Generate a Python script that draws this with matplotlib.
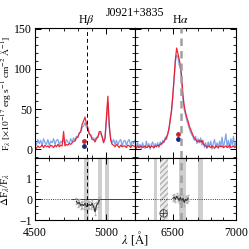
import numpy as np
import matplotlib
matplotlib.use("Agg")
import matplotlib.pyplot as plt
from matplotlib.ticker import MultipleLocator, AutoMinorLocator

plt.rcParams['font.family'] = ['Liberation Serif', 'DejaVu Serif']
plt.rcParams['mathtext.fontset'] = 'stix'

# ---------------- data ----------------
title = "J0921+3835"
xlim_left = (4500, 5200)
xlim_right = (6200, 7000)

wave_left = np.arange(4500, 5201, 10)
flux_blue_left = [9, 5, 12, 7, 11, 4, 13, 8, 6, 12, 5, 10, 8, 13, 6, 11, 12, 5, 10, 8,
                  13, 6, 12, 9, 7, 13, 9, 14, 11, 16, 15, 20, 21, 27, 29, 33, 27, 25, 19, 18,
                  14, 14, 11, 15, 15, 20, 19, 16, 10, 14, 35, 58, 26, 13, 8, 12, 6, 11, 5, 10,
                  12, 4, 10, 11, 5, 10, 12, 4, 10, 7, 11]
flux_red_left = [3, 1, 4, 2, 3, 5, 2, 5, 3, 4, 2, 5, 4, 2, 5, 3, 6, 3, 5, 4,
                 22, 4, 6, 5, 7, 6, 8, 10, 10, 14, 15, 20, 22, 31, 35, 40, 32, 27, 19, 17,
                 12, 12, 9, 13, 15, 22, 22, 15, 8, 13, 40, 66, 30, 11, 6, 5, 3, 6, 4, 2,
                 5, 3, 4, 4, 2, 5, 4, 2, 5, 4, 3]

wave_right = np.arange(6200, 7001, 10)
flux_blue_right = [6, 1, 9, 2, 6, 0, 8, 3, 1, 10, 2, 7, 0, 6, 9, 1, 7, 3, 8, 2,
                   9, 5, 11, 8, 15, 12, 20, 25, 39, 47, 67, 87, 109, 117, 115, 105, 99, 84, 63, 49,
                   43, 36, 31, 26, 21, 18, 15, 11, 16, 7, 13, 8, 14, 5, 11, 2, 8, 1, 9, 3,
                   10, 0, 7, 12, 2, 8, 1, 10, 4, 15, 2, 9, 19, 3, 11, 1, 13, 5, 16, 2, 9]
flux_red_right = [3, 1, 4, 2, 3, 4, 2, 3, 4, 2, 3, 4, 2, 4, 3, 2, 4, 3, 5, 4,
                  6, 7, 8, 10, 12, 15, 19, 27, 37, 50, 68, 90, 112, 126, 119, 112, 104, 90, 67, 54,
                  46, 40, 35, 29, 25, 21, 17, 14, 12, 10, 9, 11, 9, 11, 7, 5, 4, 2, 4, 3,
                  2, 4, 3, 1, 4, 3, 2, 4, 3, 4, 2, 3, 4, 2, 3, 5, 2, 3, 4, 2, 3]

# measured points (red / navy dots)
dot_wave = [4843, 6537]
dot_red = [10, 19]
dot_navy = [4, 13]

# residuals
res_wave_left = np.arange(4790, 4951, 10)
res_left = [-0.1, -0.2, -0.15, -0.3, -0.25, -0.3, -0.2, -0.35, -0.3, -0.25, -0.3, -0.2,
            -0.35, -0.6, -0.3, -0.2, -0.05]
res_wave_right = np.arange(6500, 6621, 10)
res_right = [0.05, 0.1, 0.0, 0.15, 0.05, -0.05, 0.1, -0.1, 0.05, -0.15, 0.0, -0.05, 0.05]
res_err = 0.15

# masked bands
bands_left = [(4843, 4878), (4940, 4969), (4990, 5017)]
bands_right = [(6351, 6375), (6549, 6605), (6700, 6740)]
hatched_right = [(6398, 6462)]
telluric = (6422, -0.67)

line_hb = 4861
line_ha = 6563

# ---------------- figure ----------------
fig = plt.figure(figsize=(2.49, 2.49), dpi=100)
L, M, R = 35/249, 135/249, 236/249
T, MID, B = 1-28/249, 1-158/249, 1-220/249
ax_tl = fig.add_axes([L, MID, M-L, T-MID])
ax_tr = fig.add_axes([M, MID, R-M, T-MID])
ax_bl = fig.add_axes([L, B, M-L, MID-B])
ax_br = fig.add_axes([M, B, R-M, MID-B])

blue = '#6f9bea'
red = '#f01020'

for ax, w, fb, fr in [(ax_tl, wave_left, flux_blue_left, flux_red_left),
                      (ax_tr, wave_right, flux_blue_right, flux_red_right)]:
    ax.plot(w, fb, color=blue, lw=0.9, alpha=0.9)
    ax.plot(w, fr, color=red, lw=0.9, alpha=0.9)

ax_tl.scatter([dot_wave[0]], [dot_red[0]], s=6, color='#c0282e', zorder=5)
ax_tl.scatter([dot_wave[0]], [dot_navy[0]], s=6, color='#1c237a', zorder=5)
ax_tr.scatter([dot_wave[1]], [dot_red[1]], s=6, color='#c0282e', zorder=5)
ax_tr.scatter([dot_wave[1]], [dot_navy[1]], s=6, color='#1c237a', zorder=5)

# bottom panels
for ax in (ax_bl, ax_br):
    ax.axhline(0, color='k', lw=0.6, ls=':', zorder=1)
ax_bl.plot([4760, 5200], [0, 0], color='#444444', lw=0.7, zorder=2)

for a, b in bands_left:
    ax_bl.axvspan(a, b, color='#cfcfcf', lw=0, zorder=0)
for a, b in bands_right:
    ax_br.axvspan(a, b, color='#cfcfcf', lw=0, zorder=0)
for a, b in hatched_right:
    ax_br.axvspan(a, b, facecolor='#ececec', edgecolor='#b0b0b0', hatch='//////', lw=0, zorder=0)

ax_bl.errorbar(res_wave_left, res_left, yerr=res_err, color='#b0b0b0', lw=0.6,
               capsize=1, elinewidth=0.5, zorder=3)
ax_bl.plot(res_wave_left, res_left, color='#333333', lw=0.8, zorder=4)
ax_br.errorbar(res_wave_right, res_right, yerr=res_err, color='#b0b0b0', lw=0.6,
               capsize=1, elinewidth=0.5, zorder=3)
ax_br.plot(res_wave_right, res_right, color='#333333', lw=0.8, zorder=4)
ax_br.text(telluric[0], telluric[1], '$\\oplus$', ha='center', va='center', fontsize=8, color='#333333')

# line markers
for ax in (ax_tl, ax_bl):
    ax.axvline(line_hb, color='k', ls=(0, (4, 3)), lw=0.7, zorder=6)
for ax in (ax_tr, ax_br):
    ax.axvline(line_ha, color='#a0a0a0', ls=(0, (3, 2)), lw=1.8, zorder=6)

# axes styling
for ax in (ax_tl, ax_bl):
    ax.set_xlim(*xlim_left)
for ax in (ax_tr, ax_br):
    ax.set_xlim(*xlim_right)
for ax in (ax_tl, ax_tr):
    ax.set_ylim(-11, 151)
    ax.yaxis.set_major_locator(MultipleLocator(50))
    ax.yaxis.set_minor_locator(MultipleLocator(10))
    ax.set_xticklabels([])
for ax in (ax_bl, ax_br):
    ax.set_ylim(-1, 2)
    ax.yaxis.set_major_locator(MultipleLocator(1))
    ax.yaxis.set_minor_locator(AutoMinorLocator(3))
for ax in (ax_tl, ax_tr, ax_bl, ax_br):
    ax.xaxis.set_major_locator(MultipleLocator(500))
    ax.xaxis.set_minor_locator(MultipleLocator(100))
    ax.tick_params(which='both', direction='in', top=True, right=True, labelsize=8.5, pad=2)
    ax.tick_params(which='major', length=4, width=0.7)
    ax.tick_params(which='minor', length=2, width=0.6)
    for s in ax.spines.values():
        s.set_linewidth(0.8)
for ax in (ax_tr, ax_br):
    ax.set_yticklabels([])

ax_bl.set_yticks([-1, 0, 1])
ax_bl.set_yticklabels(['\u22121', '0', '1'])
ax_bl.set_xticks([4500, 5000])
ax_br.set_xticks([6500, 7000])
ax_bl.tick_params(axis='x', pad=5)
ax_br.tick_params(axis='x', pad=5)

fig.text(M, 1-13/249, title, ha='center', va='center', fontsize=8.5)
fig.text(L + (line_hb-4500)/700*(M-L), 1-20/249, 'H$\\beta$', ha='center', va='center', fontsize=8.5)
fig.text(M + (line_ha-6200)/800*(R-M), 1-20/249, 'H$\\alpha$', ha='center', va='center', fontsize=8.5)
fig.text(6/249, (T+MID)/2, 'F$_\\lambda$ [$\\times$10$^{-17}$ erg s$^{-1}$ cm$^{-2}$ $\\mathrm{\\AA}^{-1}$]',
         rotation=90, ha='center', va='center', fontsize=6.8)
fig.text(6/249, (MID+B)/2, '$\\Delta$F$_\\lambda$/F$_\\lambda$', rotation=90, ha='center', va='center', fontsize=8)
fig.text(M, 1-238/249, '$\\lambda$ [$\\mathrm{\\AA}$]', ha='center', va='center', fontsize=9)

fig.savefig('out.png', dpi=100)
